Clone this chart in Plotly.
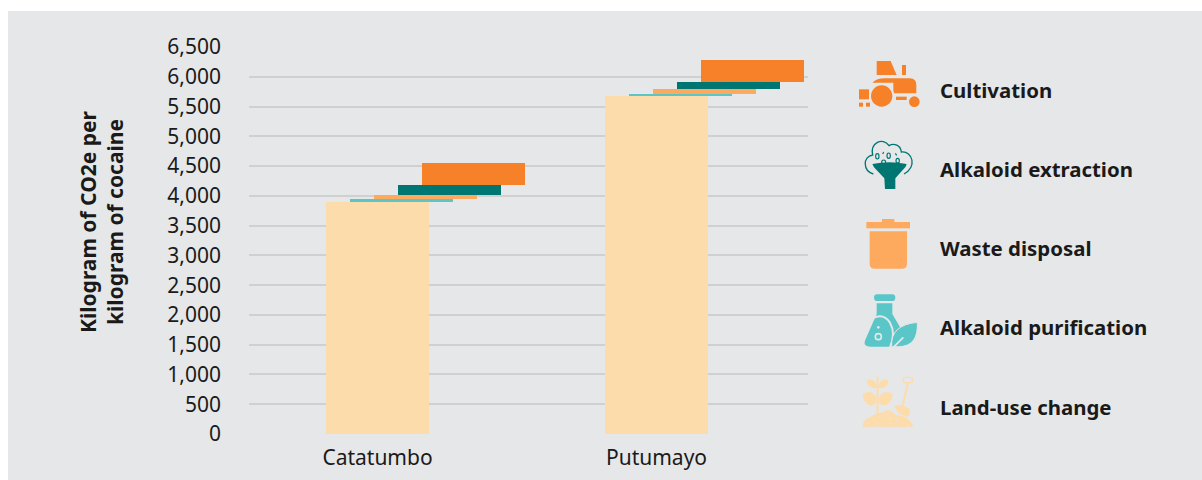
import base64
import plotly.graph_objects as go

W, H = 1202, 480
L, R, T, B = 249, 808, 47, 434

categories = ["Catatumbo", "Putumayo"]
series_names = ["Land-use change", "Alkaloid purification", "Waste disposal", "Alkaloid extraction", "Cultivation"]
land_use = [3897, 5677]
purification = [50, 33]
waste = [67, 84]
extraction = [168, 118]
cultivation = [370, 370]
tick_values = [0, 500, 1000, 1500, 2000, 2500, 3000, 3500, 4000, 4500, 5000, 5500, 6000, 6500]
y_title_lines = ["Kilogram of CO2e per", "kilogram of cocaine"]

BG = "#e6e7e8"
C_CULT, C_EXT, C_WASTE, C_PUR, C_LAND = "#f68128", "#007672", "#fdaa5f", "#5ac6c8", "#fddcab"
colors = [C_LAND, C_PUR, C_WASTE, C_EXT, C_CULT]
values = [land_use, purification, waste, extraction, cultivation]
FONT = "Noto Sans"

def px(x): return (x - L) / (R - L)
def py(y): return (B - y) / (B - T)

UNIT = 279.0
xmin = (L - 377.5) / UNIT
xmax = (R - 377.5) / UNIT
BAR_W = 103 / UNIT
STEP = 24 / UNIT

fig = go.Figure()
base = [0, 0]
for i, (name, vals, col) in enumerate(zip(series_names, values, colors)):
    fig.add_trace(go.Bar(x=categories, y=vals, base=list(base), name=name, marker=dict(color=col, line_width=0),
                         width=BAR_W, offset=-BAR_W / 2 + i * STEP, showlegend=False))
    base = [b + v for b, v in zip(base, vals)]

fig.update_layout(
    width=W, height=H, autosize=False, barmode="overlay",
    margin=dict(l=L, r=W - R, t=T, b=H - B, pad=0, autoexpand=False),
    paper_bgcolor="white", plot_bgcolor="rgba(0,0,0,0)",
    font=dict(family=FONT, color="#1a1a1a", size=21),
    xaxis=dict(type="category", range=[xmin, xmax], showgrid=False, zeroline=False, showline=False, automargin=False,
               ticks="", tickfont=dict(size=21), ticklabelstandoff=9, fixedrange=True),
    yaxis=dict(range=[0, 6500], tickvals=tick_values, tickformat=",d", showgrid=True, gridcolor="#cfd0d0", gridwidth=2,
               zeroline=False, showline=False, automargin=False, ticks="", tickfont=dict(size=21), ticklabelstandoff=27,
               fixedrange=True),
    shapes=[dict(type="rect", xref="paper", yref="paper", x0=px(8), x1=px(W), y0=py(H), y1=py(11),
                 fillcolor=BG, line_width=0, layer="below")],
)

fig.add_annotation(text="<br>".join("<b>" + s + "</b>" for s in y_title_lines), textangle=-90,
                   xref="paper", yref="paper", x=px(101), y=py(222), xanchor="center", yanchor="middle",
                   showarrow=False, font=dict(size=21, family=FONT))

# Legend labels, top to bottom
legend_y = [89.5, 168.5, 247.5, 326.5, 406.5]
for name, y in zip(series_names[::-1], legend_y):
    fig.add_annotation(text="<b>" + name + "</b>", xref="paper", yref="paper", x=px(938), y=py(y),
                       xanchor="left", yanchor="middle", showarrow=False, font=dict(size=20.4, family=FONT))

# Icons: viewBox units are 1/3 px, origin at (840,40)
ICONS = {
"tractor": ((50, 55, 200, 150), f'''
<g fill="{C_CULT}"><path d="M110 63H152L170 105H110Z"/><rect x="186" y="75" width="12" height="30"/>
<path d="M97 128Q110 115 135 115H210Q229 115 229 135V160H160V128Z"/>
<circle cx="125" cy="168" r="38" fill="{BG}"/><circle cx="125" cy="168" r="32"/>
<circle cx="223" cy="185" r="16"/><rect x="168" y="170" width="32" height="10"/>
<rect x="57" y="148" width="30" height="30"/><rect x="57" y="188" width="12" height="12"/><rect x="78" y="188" width="12" height="12"/></g>'''),
"extract": ((65, 295, 165, 160), f'''
<path d="M100 402C68 392 68 350 98 345C90 308 128 290 147 317C162 308 182 316 184 336C218 332 232 382 192 402" fill="none" stroke="{C_EXT}" stroke-width="4"/>
<g fill="none" stroke="{C_EXT}" stroke-width="3.5"><ellipse cx="112" cy="349" rx="5" ry="8"/><ellipse cx="146" cy="347" rx="5" ry="8"/><ellipse cx="173" cy="362" rx="5" ry="7"/><ellipse cx="131" cy="367" rx="6" ry="7"/><path d="M128 342L131 336M166 340L170 346"/></g>
<path d="M97 372Q148 362 200 372L197 380L166 415V447H135L133 415L102 382Z" fill="{C_EXT}"/>'''),
"waste": ((70, 530, 150, 165), f'''
<g fill="{C_WASTE}"><rect x="79" y="546" width="131" height="19"/><rect x="126" y="537" width="37" height="10"/>
<path d="M89 574H201V671Q201 686 186 686H104Q89 686 89 671Z"/></g>'''),
"purify": ((65, 755, 175, 170), f'''
<g fill="{C_PUR}"><rect x="102" y="763" width="64" height="20" rx="10"/>
<path d="M110 790H157V822L185 870Q205 920 180 920H92Q65 920 78 895L110 822Z"/></g>
<path d="M98 835Q130 818 150 848Q168 880 150 922" fill="none" stroke="{BG}" stroke-width="6"/>
<path d="M155 920Q150 855 232 847Q236 920 175 920Z" fill="{C_PUR}" stroke="{BG}" stroke-width="3"/>
<path d="M160 922L190 892" stroke="{BG}" stroke-width="5"/>
<circle cx="115" cy="890" r="9" fill="none" stroke="{BG}" stroke-width="5"/><circle cx="115" cy="862" r="4" fill="{BG}"/>'''),
"land": ((60, 1005, 170, 165), f'''
<path d="M113 1010V1130" stroke="{C_LAND}" stroke-width="6"/>
<g fill="{C_LAND}"><path d="M80 1020Q107 1012 112 1044Q82 1048 80 1020Z"/><path d="M146 1020Q119 1012 114 1044Q144 1048 146 1020Z"/>
<path d="M68 1062Q102 1044 112 1082Q102 1100 85 1094Q68 1082 68 1062Z"/><path d="M158 1062Q124 1044 114 1082Q124 1100 141 1094Q158 1082 158 1062Z"/>
<path d="M163 1098L180 1094L208 1105L210 1122L200 1132L175 1118Z"/></g>
<path d="M204 1028L188 1098" stroke="{C_LAND}" stroke-width="6"/>
<rect x="190" y="1012" width="27" height="16" rx="6" fill="none" stroke="{C_LAND}" stroke-width="4"/>
<path d="M67 1160Q68 1140 90 1132Q108 1118 125 1118Q145 1100 168 1125Q210 1128 220 1160Z" fill="{C_LAND}"/>
<g fill="{BG}"><circle cx="100" cy="1140" r="2"/><circle cx="118" cy="1132" r="2"/><circle cx="138" cy="1124" r="2"/><circle cx="152" cy="1134" r="2"/><circle cx="130" cy="1146" r="2"/><circle cx="170" cy="1142" r="2"/><circle cx="85" cy="1150" r="2"/><circle cx="110" cy="1152" r="2"/><circle cx="150" cy="1150" r="2"/><circle cx="190" cy="1148" r="2"/><circle cx="203" cy="1155" r="2"/></g>'''),
}
for (vx, vy, vw, vh), body in ICONS.values():
    svg = f'<svg xmlns="http://www.w3.org/2000/svg" width="{vw}" height="{vh}" viewBox="{vx} {vy} {vw} {vh}">{body}</svg>'
    uri = "data:image/svg+xml;base64," + base64.b64encode(svg.encode()).decode()
    x0, y0 = 840 + vx / 3, 40 + vy / 3
    fig.add_layout_image(source=uri, xref="paper", yref="paper", x=px(x0), y=py(y0),
                         sizex=(vw / 3) / (R - L), sizey=(vh / 3) / (B - T),
                         xanchor="left", yanchor="top", sizing="stretch", layer="above")

fig.write_html("out.html", config={"displayModeBar": False},
               post_script="document.body.style.margin='0';document.body.style.overflow='hidden';")
